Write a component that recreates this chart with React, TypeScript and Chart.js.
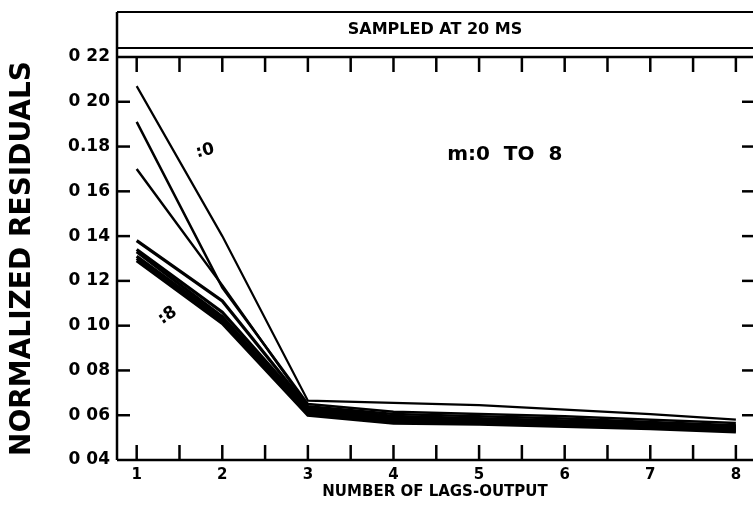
import React, { useEffect, useRef } from "react";
import { Chart, registerables } from "chart.js";

Chart.register(...registerables);

// Number of lags (output)
const lags = [1, 2, 3, 4, 5, 6, 7, 8];

// Normalized residuals for m = 0 ... 8
const m0 = [0.207, 0.140, 0.0665, 0.0655, 0.0645, 0.0625, 0.0605, 0.058];
const m1 = [0.191, 0.117, 0.065, 0.0615, 0.0605, 0.0595, 0.058, 0.0565];
const m2 = [0.170, 0.118, 0.064, 0.0605, 0.0595, 0.0585, 0.057, 0.0555];
const m3 = [0.138, 0.111, 0.0635, 0.0595, 0.0585, 0.0575, 0.0565, 0.055];
const m4 = [0.134, 0.106, 0.063, 0.0585, 0.058, 0.057, 0.056, 0.0545];
const m5 = [0.133, 0.104, 0.062, 0.058, 0.0575, 0.0565, 0.0555, 0.054];
const m6 = [0.131, 0.103, 0.061, 0.0575, 0.057, 0.056, 0.055, 0.0535];
const m7 = [0.130, 0.102, 0.0605, 0.057, 0.0565, 0.0555, 0.0545, 0.053];
const m8 = [0.129, 0.101, 0.060, 0.0565, 0.056, 0.055, 0.054, 0.0525];
const seriesList = [m0, m1, m2, m3, m4, m5, m6, m7, m8];
const seriesNames = ["m=0", "m=1", "m=2", "m=3", "m=4", "m=5", "m=6", "m=7", "m=8"];

// Axis ticks
const xTickLabels = ["1", "2", "3", "4", "5", "6", "7", "8"];
const xMinorTicks = [1, 1.5, 2, 2.5, 3, 3.5, 4, 4.5, 5, 5.5, 6, 6.5, 7, 7.5, 8];
const yTickValues = [0.04, 0.06, 0.08, 0.1, 0.12, 0.14, 0.16, 0.18, 0.2, 0.22];
const yTickLabels = ["0 04", "0 06", "0 08", "0 10", "0 12", "0 14", "0 16", "0.18", "0 20", "0 22"];
const yRightTicks = [0.06, 0.08, 0.1, 0.12, 0.14, 0.16, 0.18, 0.2];

// Text annotations (positions in data units)
const noteTexts = ["m:0  TO  8", ":0", ":8"];
const noteX = [5.3, 1.8, 1.36];
const noteY = [0.1765, 0.178, 0.1045];

const FONT = "'DejaVu Sans', 'Liberation Sans', sans-serif";

const framePlugin = {
  id: "frame",
  afterDraw(chart: any) {
    const { ctx, chartArea, scales } = chart;
    const { left, right, top, bottom } = chartArea;
    const x = scales.x;
    const y = scales.y;
    const line = (x1: number, y1: number, x2: number, y2: number) => {
      ctx.beginPath();
      ctx.moveTo(x1, y1);
      ctx.lineTo(x2, y2);
      ctx.stroke();
    };
    ctx.save();
    ctx.strokeStyle = "#000";
    ctx.lineCap = "butt";
    ctx.lineWidth = 2.5;
    // frame and title box
    line(left, 12, left, bottom);
    line(left, bottom, right, bottom);
    line(left, top, right, top);
    ctx.lineWidth = 2;
    line(left, top - 9, right, top - 9);
    line(left, 12, right, 12);
    ctx.lineWidth = 2.5;
    // x ticks (bottom, inward and top, inward)
    xMinorTicks.forEach((v) => {
      const px = x.getPixelForValue(v);
      line(px, bottom, px, bottom - 15);
      line(px, top, px, top + 15);
    });
    // y ticks (left inward, right)
    yTickValues.slice(1, -1).forEach((v) => {
      const py = y.getPixelForValue(v);
      line(left, py, left + 13, py);
    });
    yRightTicks.forEach((v) => {
      const py = y.getPixelForValue(v);
      line(right - 11, py, right, py);
    });
    // annotations
    ctx.fillStyle = "#000";
    ctx.textAlign = "center";
    ctx.textBaseline = "middle";
    noteTexts.forEach((t, i) => {
      const px = x.getPixelForValue(noteX[i]);
      const py = y.getPixelForValue(noteY[i]);
      ctx.save();
      ctx.translate(px, py);
      if (i === 1) ctx.rotate(-0.25);
      if (i === 2) ctx.rotate(-0.6);
      ctx.font = i === 0 ? `bold 20px ${FONT}` : `bold 17px ${FONT}`;
      ctx.fillText(t, 0, 0);
      ctx.restore();
    });
    ctx.restore();
  },
};

export default function App() {
  const ref = useRef<HTMLCanvasElement | null>(null);
  useEffect(() => {
    document.body.style.margin = "0";
    const canvas = ref.current;
    if (!canvas) return;
    const datasets = seriesList.map((s, i) => ({
      label: seriesNames[i],
      data: lags.map((l, j) => ({ x: l, y: s[j] })),
      borderColor: "#000",
      backgroundColor: "#000",
      borderWidth: i === 0 ? 2.2 : i < 3 ? 2.5 : 3.2,
      pointRadius: 0,
      tension: 0,
      fill: false,
    }));
    const chart = new Chart(canvas, {
      type: "line",
      data: { datasets },
      plugins: [framePlugin],
      options: {
        responsive: false,
        animation: false,
        devicePixelRatio: 1,
        layout: { padding: { top: 12, left: 0, right: 0, bottom: 0 } },
        plugins: {
          legend: { display: false },
          tooltip: { enabled: false },
          title: {
            display: true,
            text: "SAMPLED AT 20 MS",
            fullSize: false,
            color: "#000",
            font: { family: FONT, size: 16, weight: "bold" },
            padding: { top: 8, bottom: 17.8 },
          },
        },
        scales: {
          x: {
            type: "linear",
            min: 0.77,
            max: 8.2,
            grid: { display: false, drawTicks: false },
            border: { display: false },
            afterBuildTicks: (scale: any) => {
              scale.ticks = lags.map((v) => ({ value: v }));
            },
            afterFit: (scale: any) => {
              scale.height = 51;
            },
            ticks: {
              autoSkip: false,
              maxRotation: 0,
              minRotation: 0,
              padding: 6,
              color: "#000",
              font: { family: FONT, size: 15, weight: "bold" },
              callback: (v: any) => {
                const i = lags.indexOf(Number(v));
                return i >= 0 ? xTickLabels[i] : "";
              },
            },
            title: {
              display: true,
              text: "NUMBER OF LAGS-OUTPUT",
              color: "#000",
              font: { family: FONT, size: 15, weight: "bold" },
              padding: { top: 0, bottom: 10 },
            },
          },
          y: {
            type: "linear",
            min: 0.04,
            max: 0.22,
            grid: { display: false, drawTicks: false },
            border: { display: false },
            afterBuildTicks: (scale: any) => {
              scale.ticks = yTickValues.map((v) => ({ value: v }));
            },
            afterFit: (scale: any) => {
              scale.width = 117;
            },
            ticks: {
              autoSkip: false,
              padding: 7,
              color: "#000",
              font: { family: FONT, size: 17, weight: "bold" },
              callback: (v: any) => {
                const i = yTickValues.findIndex((t) => Math.abs(t - Number(v)) < 1e-6);
                return i >= 0 ? yTickLabels[i] : "";
              },
            },
            title: {
              display: true,
              text: "NORMALIZED RESIDUALS",
              color: "#000",
              font: { family: FONT, size: 28, weight: "bold" },
              padding: { top: 6, bottom: 0 },
            },
          },
        },
      },
    });
    return () => chart.destroy();
  }, []);
  return (
    <div style={{ position: "fixed", left: 0, top: 0, width: 753, height: 511, overflow: "hidden", background: "#fff" }}>
      <canvas ref={ref} width={753} height={511} style={{ display: "block", width: 753, height: 511 }} />
    </div>
  );
}
